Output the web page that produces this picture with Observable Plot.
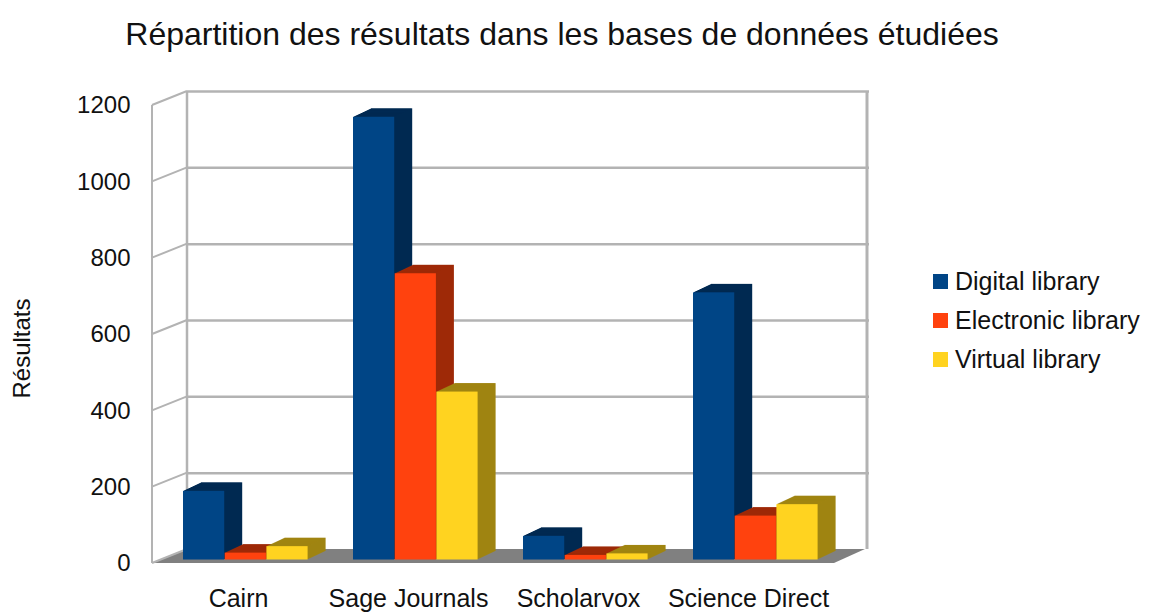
<!DOCTYPE html>
<html><head><meta charset="utf-8">
<script src="https://cdn.jsdelivr.net/npm/d3@7"></script>
<script src="https://cdn.jsdelivr.net/npm/@observablehq/plot@0.6"></script>
<style>
body{margin:0;background:#fff;font-family:"Liberation Sans",Arial,sans-serif;}
#wrap{position:relative;width:1152px;height:612px;overflow:hidden;background:#fff}
#chart{position:absolute;left:0;top:0}
#title{position:absolute;left:0;width:1124px;top:18px;text-align:center;font-size:32px;line-height:1;color:#111}
#legend{position:absolute;left:933px;top:262px;font-size:25px;color:#111}
.row{display:flex;align-items:center;height:39px;white-space:nowrap}
.sw{width:15px;height:15px;margin-right:7px}
</style></head><body>
<div id="wrap">
  <div id="chart"></div>
  <div id="title">Répartition des résultats dans les bases de données étudiées</div>
  <div id="legend"></div>
</div>
<script>
const categories = ["Cairn", "Sage Journals", "Scholarvox", "Science Direct"];
const series = ["Digital library", "Electronic library", "Virtual library"];
const digital = [180, 1160, 62, 700];
const electronic = [18, 750, 12, 115];
const virtual = [35, 440, 16, 145];
const yTicks = [0, 200, 400, 600, 800, 1000, 1200];
const colors = ["#004586", "#ff420e", "#ffd320"];
const shades = ["#002a52", "#9e2a08", "#a08512"];

const values = [digital, electronic, virtual];
const data = categories.flatMap((c, j) => series.map((s, i) => ({category: c, series: s, value: values[i][j], i})));

const W = 1152, H = 612, mL = 152, mR = 318, mT = 105, mB = 49;
const depthX = 35, depthY = -14;       // back wall offset
const barDepth = 18, barSlope = 0.47;  // bar extrusion
const barLift = -3.5;
const bw = (W - mL - mR) / categories.length;
const barW = 41.7, barStart = 30;
const gridColor = "#b3b3b3";

// static 3D room (floor, left wall, back wall borders) drawn with Plot's scales
const room = (index, scales, values, dims) => {
  const g = d3.create("svg:g");
  const y = scales.y;
  const x0 = dims.marginLeft, x1 = dims.width - dims.marginRight;
  const y0 = y(0), yTop = y(d3.max(yTicks));
  // floor
  g.append("polygon")
    .attr("points", [[x0, y0], [x1, y0], [x1 + depthX - 4, y0 + depthY], [x0 + depthX, y0 + depthY]].map(p => p.join(",")).join(" "))
    .attr("fill", "#808080");
  // back wall verticals
  g.append("line").attr("x1", x0 + depthX).attr("x2", x0 + depthX).attr("y1", yTop + depthY).attr("y2", y0 + depthY)
    .attr("stroke", gridColor).attr("stroke-width", 2.5);
  g.append("line").attr("x1", x1 + depthX - 2).attr("x2", x1 + depthX - 2).attr("y1", yTop + depthY).attr("y2", y0 + depthY)
    .attr("stroke", gridColor).attr("stroke-width", 3);
  // left wall front edge
  g.append("line").attr("x1", x0).attr("x2", x0).attr("y1", yTop).attr("y2", y0)
    .attr("stroke", gridColor).attr("stroke-width", 2);
  // left wall diagonals
  for (const t of yTicks) {
    g.append("line").attr("x1", x0).attr("y1", y(t)).attr("x2", x0 + depthX).attr("y2", y(t) + depthY)
      .attr("stroke", gridColor).attr("stroke-width", 2);
  }
  return g.node();
};

const marks = [
  Plot.ruleY(yTicks.filter(t => t > 0), {dx: depthX, dy: depthY, stroke: gridColor, strokeWidth: 2.5}),
  room
];

for (let i = 0; i < series.length; i++) {
  const d = data.filter(r => r.i === i);
  const inset = {insetLeft: barStart + i * barW, insetRight: bw - barStart - (i + 1) * barW};
  for (let k = barDepth; k >= 1; k--) {
    marks.push(Plot.barY(d, {x: "category", y: "value", fill: shades[i], dx: k, dy: barLift - k * barSlope, ...inset}));
  }
  marks.push(Plot.barY(d, {x: "category", y: "value", fill: colors[i], dy: barLift, ...inset}));
}

marks.push(Plot.text(["Résultats"], {frameAnchor: "left", textAnchor: "middle", dx: -130, dy: 14, rotate: -90, fontSize: 24, fill: "#111"}));

const chart = Plot.plot({
  width: W, height: H,
  marginLeft: mL, marginRight: mR, marginTop: mT, marginBottom: mB,
  style: {fontFamily: "Liberation Sans, Arial, sans-serif", fontSize: "24px", color: "#111", background: "transparent"},
  x: {domain: categories, padding: 0, tickSize: 0, tickPadding: 26, label: null, tickFormat: d => d},
  y: {domain: [0, 1200], ticks: yTicks, tickSize: 0, tickPadding: 22, label: null, tickFormat: d => String(d)},
  marks
});
chart.querySelectorAll('[aria-label="x-axis"] text, [aria-label="x-axis tick label"] text').forEach(t => t.style.fontSize = "25px");
document.getElementById("chart").appendChild(chart);

const legend = document.getElementById("legend");
series.forEach((s, i) => {
  const row = document.createElement("div");
  row.className = "row";
  const sw = document.createElement("div");
  sw.className = "sw";
  sw.style.background = colors[i];
  const lab = document.createElement("span");
  lab.textContent = s;
  row.appendChild(sw); row.appendChild(lab);
  legend.appendChild(row);
});
</script>
</body></html>
